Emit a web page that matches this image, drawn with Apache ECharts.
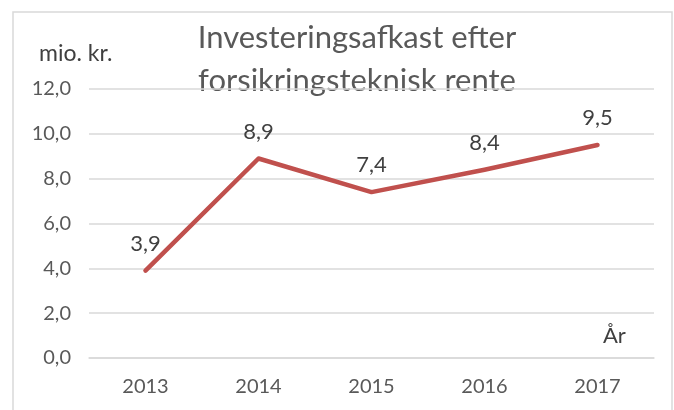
<!DOCTYPE html>
<html><head><meta charset="utf-8">
<script src="https://cdn.jsdelivr.net/npm/echarts@6/dist/echarts.min.js"></script>
<style>html,body{margin:0;padding:0;background:#fff}#c{width:674px;height:410px}</style>
</head><body><div id="c"></div>
<script>
const categories = ['2013', '2014', '2015', '2016', '2017'];
const values = [3.9, 8.9, 7.4, 8.4, 9.5];
const yTicks = [0, 2, 4, 6, 8, 10, 12];
const titleLines = ['Investeringsafkast efter', 'forsikringsteknisk rente'];
const yUnit = 'mio. kr.';
const xName = 'År';

const fmt = v => v.toFixed(1).replace('.', ',');
const FONT = 'Lato';
const chart = echarts.init(document.getElementById('c'), null, {renderer: 'canvas'});
chart.setOption({
  animation: false,
  backgroundColor: '#ffffff',
  grid: {left: 89, right: 20, top: 89, bottom: 52, containLabel: false},
  xAxis: {
    type: 'category', data: categories, boundaryGap: true,
    axisLine: {show: true, lineStyle: {color: '#d9d9d9', width: 1.5}},
    axisTick: {show: false},
    axisLabel: {color: '#595959', fontSize: 20, fontFamily: FONT, margin: 19}
  },
  yAxis: {
    type: 'value', min: yTicks[0], max: yTicks[yTicks.length - 1], interval: 2,
    axisLine: {show: false}, axisTick: {show: false},
    splitLine: {lineStyle: {color: '#d9d9d9', width: 1.5}},
    axisLabel: {color: '#595959', fontSize: 20, fontFamily: FONT, margin: 18, formatter: v => fmt(v)}
  },
  series: [{
    type: 'line', data: values,
    symbol: 'circle', symbolSize: 2, showSymbol: true,
    itemStyle: {color: '#C0504D'},
    lineStyle: {color: '#C0504D', width: 4.5, cap: 'round', join: 'round'},
    label: {show: true, position: 'top', distance: 15, color: '#404040', fontSize: 22, fontFamily: FONT,
      formatter: p => fmt(p.value)}
  }],
  graphic: [
    {type: 'rect', shape: {x: 13, y: 12, width: 659, height: 420}, style: {fill: null, stroke: '#d9d9d9', lineWidth: 1.5}, z: -1},
    {type: 'text', x: 357, y: 16, style: {text: titleLines.join('\n'), textAlign: 'center', fill: '#595959', fontSize: 31, fontFamily: FONT, lineHeight: 43}},
    {type: 'text', x: 39, y: 42, style: {text: yUnit, fill: '#404040', fontSize: 23, fontFamily: FONT, letterSpacing: 1}},
    {type: 'text', x: 603, y: 325, style: {text: xName, fill: '#404040', fontSize: 22, fontFamily: FONT}}
  ]
});
</script></body></html>
